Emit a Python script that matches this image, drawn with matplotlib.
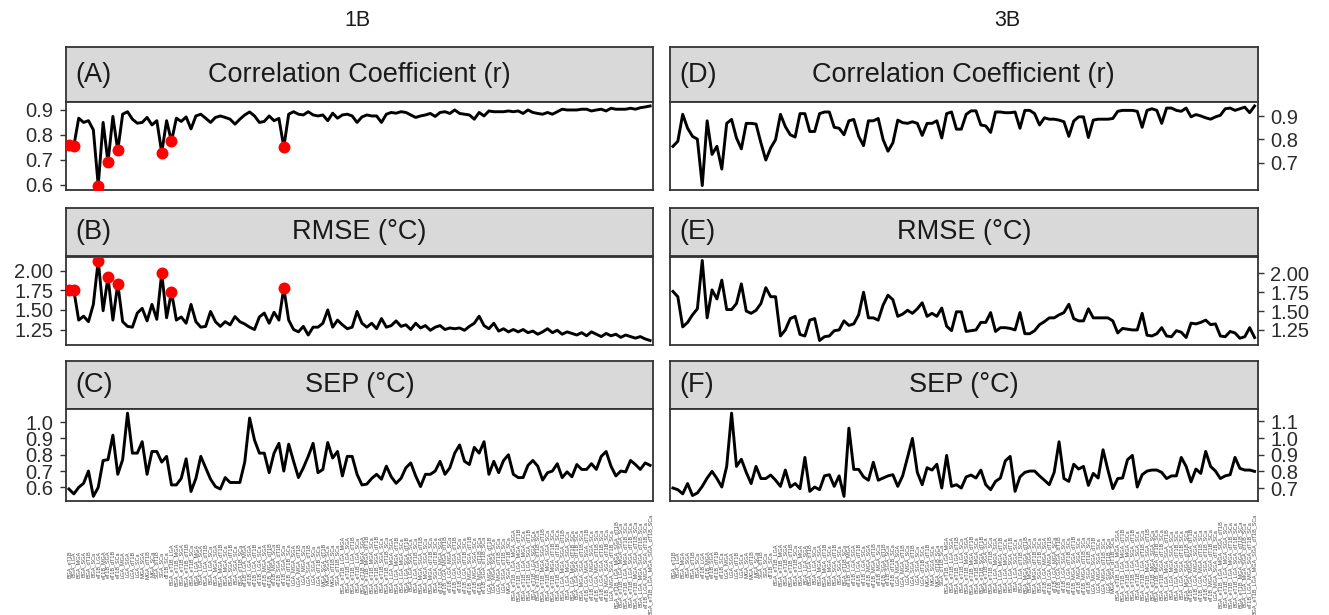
import itertools
import matplotlib
matplotlib.use("Agg")
import matplotlib.pyplot as plt

plt.rcParams['font.family'] = ['Liberation Sans', 'DejaVu Sans']

# ---- data -------------------------------------------------------------
predictors = ["BGA", "eT1B", "LGA", "MGA", "SGA", "dT1B", "SCa"]
combo_sizes = [2, 3, 4, 5, 6, 7]
model_labels = ["_".join(c) for k in combo_sizes
                for c in itertools.combinations(predictors, k)]

r_1b = [0.760, 0.755, 0.867, 0.850, 0.857, 0.820, 0.597, 0.850, 0.690, 0.874,
        0.738, 0.883, 0.893, 0.863, 0.847, 0.850, 0.870, 0.840, 0.857, 0.729,
        0.857, 0.774, 0.867, 0.854, 0.872, 0.824, 0.876, 0.883, 0.867, 0.850,
        0.870, 0.876, 0.870, 0.863, 0.843, 0.863, 0.880, 0.892, 0.876, 0.850,
        0.854, 0.876, 0.857, 0.866, 0.751, 0.883, 0.893, 0.883, 0.880, 0.893,
        0.880, 0.876, 0.880, 0.857, 0.887, 0.867, 0.880, 0.883, 0.876, 0.850,
        0.872, 0.880, 0.876, 0.876, 0.850, 0.883, 0.890, 0.887, 0.893, 0.890,
        0.880, 0.870, 0.876, 0.880, 0.886, 0.874, 0.890, 0.893, 0.886, 0.900,
        0.886, 0.883, 0.880, 0.863, 0.890, 0.876, 0.896, 0.893, 0.893, 0.893,
        0.896, 0.893, 0.896, 0.886, 0.900, 0.890, 0.886, 0.883, 0.890, 0.883,
        0.893, 0.903, 0.900, 0.900, 0.900, 0.903, 0.903, 0.896, 0.900, 0.903,
        0.896, 0.907, 0.903, 0.903, 0.903, 0.907, 0.903, 0.909, 0.912, 0.916]

rmse_1b = [1.75, 1.75, 1.37, 1.42, 1.35, 1.57, 2.13, 1.49, 1.92, 1.37,
           1.835, 1.35, 1.29, 1.28, 1.46, 1.52, 1.36, 1.57, 1.38, 1.97,
           1.40, 1.73, 1.37, 1.41, 1.33, 1.57, 1.35, 1.28, 1.29, 1.48,
           1.35, 1.29, 1.35, 1.31, 1.415, 1.35, 1.32, 1.28, 1.25, 1.41,
           1.46, 1.33, 1.47, 1.37, 1.78, 1.37, 1.25, 1.22, 1.29, 1.18,
           1.28, 1.28, 1.33, 1.50, 1.28, 1.37, 1.31, 1.26, 1.28, 1.48,
           1.33, 1.28, 1.33, 1.26, 1.39, 1.28, 1.30, 1.36, 1.29, 1.31,
           1.25, 1.33, 1.27, 1.30, 1.24, 1.28, 1.30, 1.25, 1.27, 1.26,
           1.27, 1.24, 1.29, 1.33, 1.42, 1.30, 1.26, 1.33, 1.23, 1.26,
           1.22, 1.25, 1.22, 1.25, 1.21, 1.23, 1.19, 1.22, 1.26, 1.21,
           1.24, 1.19, 1.22, 1.20, 1.18, 1.21, 1.17, 1.22, 1.19, 1.16,
           1.20, 1.17, 1.19, 1.15, 1.18, 1.16, 1.14, 1.16, 1.13, 1.11]

sep_1b = [0.59, 0.56, 0.60, 0.625, 0.70, 0.545, 0.60, 0.765, 0.77, 0.92,
          0.68, 0.77, 1.055, 0.81, 0.81, 0.88, 0.68, 0.82, 0.82, 0.755,
          0.79, 0.615, 0.615, 0.655, 0.775, 0.575, 0.655, 0.79, 0.72, 0.65,
          0.605, 0.59, 0.66, 0.63, 0.63, 0.63, 0.755, 1.025, 0.89, 0.81,
          0.81, 0.69, 0.81, 0.87, 0.70, 0.865, 0.76, 0.66, 0.72, 0.79,
          0.87, 0.69, 0.71, 0.875, 0.78, 0.82, 0.67, 0.79, 0.79, 0.68,
          0.615, 0.62, 0.655, 0.68, 0.65, 0.73, 0.665, 0.625, 0.655, 0.72,
          0.75, 0.67, 0.605, 0.68, 0.68, 0.70, 0.76, 0.68, 0.72, 0.81,
          0.86, 0.76, 0.74, 0.845, 0.81, 0.88, 0.68, 0.76, 0.69, 0.765,
          0.80, 0.68, 0.66, 0.66, 0.735, 0.765, 0.73, 0.645, 0.69, 0.70,
          0.745, 0.66, 0.695, 0.665, 0.74, 0.71, 0.71, 0.745, 0.71, 0.79,
          0.82, 0.73, 0.67, 0.70, 0.695, 0.765, 0.74, 0.71, 0.75, 0.735]

r_3b = [0.770, 0.792, 0.908, 0.848, 0.813, 0.801, 0.601, 0.880, 0.735, 0.770,
        0.672, 0.869, 0.886, 0.806, 0.759, 0.869, 0.869, 0.866, 0.785, 0.711,
        0.763, 0.799, 0.908, 0.855, 0.820, 0.810, 0.911, 0.911, 0.834, 0.834,
        0.911, 0.918, 0.918, 0.852, 0.848, 0.820, 0.880, 0.886, 0.813, 0.773,
        0.880, 0.880, 0.890, 0.799, 0.749, 0.785, 0.883, 0.872, 0.869, 0.876,
        0.869, 0.817, 0.869, 0.869, 0.880, 0.806, 0.911, 0.918, 0.844, 0.844,
        0.908, 0.923, 0.923, 0.862, 0.858, 0.830, 0.918, 0.918, 0.915, 0.915,
        0.918, 0.848, 0.925, 0.925, 0.911, 0.862, 0.893, 0.887, 0.887, 0.883,
        0.876, 0.813, 0.879, 0.897, 0.897, 0.808, 0.883, 0.887, 0.887, 0.887,
        0.890, 0.921, 0.925, 0.925, 0.925, 0.921, 0.852, 0.925, 0.932, 0.925,
        0.869, 0.935, 0.935, 0.925, 0.921, 0.935, 0.897, 0.907, 0.901, 0.893,
        0.887, 0.897, 0.904, 0.932, 0.935, 0.925, 0.932, 0.939, 0.915, 0.944]

rmse_3b = [1.76, 1.69, 1.29, 1.35, 1.45, 1.53, 2.17, 1.41, 1.78, 1.66,
           1.91, 1.52, 1.52, 1.60, 1.86, 1.50, 1.47, 1.51, 1.60, 1.81,
           1.69, 1.69, 1.17, 1.25, 1.40, 1.43, 1.19, 1.17, 1.38, 1.40,
           1.11, 1.16, 1.17, 1.24, 1.25, 1.37, 1.31, 1.33, 1.45, 1.75,
           1.41, 1.41, 1.38, 1.58, 1.71, 1.65, 1.43, 1.46, 1.51, 1.47,
           1.53, 1.61, 1.43, 1.47, 1.43, 1.54, 1.30, 1.24, 1.49, 1.49,
           1.23, 1.24, 1.25, 1.35, 1.35, 1.48, 1.23, 1.28, 1.28, 1.27,
           1.25, 1.48, 1.20, 1.20, 1.24, 1.32, 1.36, 1.41, 1.41, 1.45,
           1.48, 1.59, 1.40, 1.37, 1.37, 1.53, 1.41, 1.41, 1.41, 1.41,
           1.37, 1.21, 1.27, 1.26, 1.25, 1.25, 1.47, 1.18, 1.17, 1.20,
           1.28, 1.17, 1.16, 1.24, 1.22, 1.15, 1.34, 1.33, 1.35, 1.38,
           1.32, 1.33, 1.17, 1.16, 1.23, 1.21, 1.14, 1.16, 1.28, 1.15]

sep_3b = [0.70, 0.69, 0.665, 0.727, 0.655, 0.67, 0.71, 0.76, 0.80, 0.757,
          0.706, 0.83, 1.15, 0.83, 0.873, 0.794, 0.727, 0.83, 0.757, 0.757,
          0.778, 0.747, 0.71, 0.808, 0.706, 0.727, 0.696, 0.884, 0.68, 0.706,
          0.69, 0.773, 0.78, 0.71, 0.773, 0.65, 1.06, 0.812, 0.812, 0.767,
          0.747, 0.855, 0.747, 0.76, 0.773, 0.78, 0.71, 0.773, 0.884, 0.998,
          0.794, 0.72, 0.822, 0.808, 0.843, 0.70, 0.896, 0.71, 0.72, 0.70,
          0.767, 0.778, 0.76, 0.808, 0.72, 0.69, 0.74, 0.76, 0.863, 0.89,
          0.68, 0.767, 0.794, 0.802, 0.802, 0.773, 0.747, 0.72, 0.794, 0.978,
          0.757, 0.74, 0.843, 0.814, 0.83, 0.716, 0.788, 0.76, 0.93, 0.808,
          0.696, 0.757, 0.76, 0.87, 0.896, 0.706, 0.78, 0.802, 0.808, 0.808,
          0.794, 0.757, 0.773, 0.773, 0.884, 0.83, 0.737, 0.814, 0.788, 0.92,
          0.83, 0.802, 0.757, 0.773, 0.78, 0.884, 0.818, 0.808, 0.808, 0.80]

# models flagged in the 1B correlation / RMSE panels
flagged_1b = [0, 1, 6, 8, 10, 19, 21, 44]

column_titles = ["1B", "3B"]
strip_letters = [["(A)", "(B)", "(C)"], ["(D)", "(E)", "(F)"]]
strip_titles = ["Correlation Coefficient (r)", "RMSE (\u00b0C)", "SEP (\u00b0C)"]

yticks = [[[0.6, 0.7, 0.8, 0.9], [1.25, 1.50, 1.75, 2.00], [0.6, 0.7, 0.8, 0.9, 1.0]],
          [[0.7, 0.8, 0.9], [1.25, 1.50, 1.75, 2.00], [0.7, 0.8, 0.9, 1.0, 1.1]]]
ytick_fmt = [["{:.1f}", "{:.2f}", "{:.1f}"], ["{:.1f}", "{:.2f}", "{:.1f}"]]

series = [[r_1b, rmse_1b, sep_1b], [r_3b, rmse_3b, sep_3b]]
flags = [[flagged_1b, flagged_1b, []], [[], [], []]]

# ---- layout (pixels) ----------------------------------------------------
W, H = 1329, 615
fig = plt.figure(figsize=(W / 100, H / 100), dpi=100)
fig.patch.set_facecolor("white")


def frac(l, t, r, b):
    return [l / W, 1 - b / H, (r - l) / W, (b - t) / H]


cols = [(66, 653), (670, 1257.5)]
rows = [((47, 102), (102, 189.5)),
        ((208, 256.5), (256.5, 344.5)),
        ((361, 409), (409, 500.5))]
title_x = [357, 1007]

EDGE = "#333333"
TXT = "#1A1A1A"
x = list(range(len(model_labels)))

for c, (l, r) in enumerate(cols):
    fig.text(title_x[c] / W, 1 - 21 / H, column_titles[c], ha="center",
             va="center", fontsize=15.5, color=TXT)
    for k, ((st, sb), (pt, pb)) in enumerate(rows):
        # facet strip
        sa = fig.add_axes(frac(l, st, r, sb))
        sa.set_facecolor("#D9D9D9")
        sa.set_xticks([])
        sa.set_yticks([])
        for sp in sa.spines.values():
            sp.set_color(EDGE)
            sp.set_linewidth(1.3)
        sa.text(0.5, 0.5, strip_titles[k], ha="center", va="center",
                fontsize=19.5, color=TXT, transform=sa.transAxes)
        sa.text(9 / (r - l), 0.5, strip_letters[c][k], ha="left", va="center",
                fontsize=19.5, color=TXT, transform=sa.transAxes)

        # panel
        ax = fig.add_axes(frac(l, pt, r, pb))
        vals = series[c][k]
        ax.plot(x, vals, color="black", lw=2.1, solid_joinstyle="round",
                zorder=2)
        fl = flags[c][k]
        if fl:
            ax.plot([x[i] for i in fl], [vals[i] for i in fl], "o",
                    color="#FF0000", ms=8.6, mec="none", zorder=3)
        lo, hi = min(vals), max(vals)
        span = hi - lo
        ax.set_ylim(lo - 0.05 * span, hi + 0.05 * span)
        ax.set_xlim(-0.6, len(x) - 0.4)
        ax.set_yticks(yticks[c][k])
        ax.set_yticklabels([ytick_fmt[c][k].format(v) for v in yticks[c][k]])
        for sp in ax.spines.values():
            sp.set_color(EDGE)
            sp.set_linewidth(1.3)
        ax.tick_params(axis="y", length=4.3, width=1.0, color=EDGE,
                       labelsize=14.5, labelcolor="#2B2B2B", pad=5.0)
        if c == 1:
            ax.yaxis.tick_right()
        ax.set_xticks(x)
        if k == 2:
            ax.set_xticklabels(model_labels, rotation=90, fontsize=4.0,
                               color="#4D4D4D")
            ax.tick_params(axis="x", length=0, pad=46.0)
            for t in ax.get_xticklabels():
                t.set_verticalalignment("center")
        else:
            ax.tick_params(axis="x", length=0, labelbottom=False)

fig.savefig("out.png", dpi=100, facecolor="white")
